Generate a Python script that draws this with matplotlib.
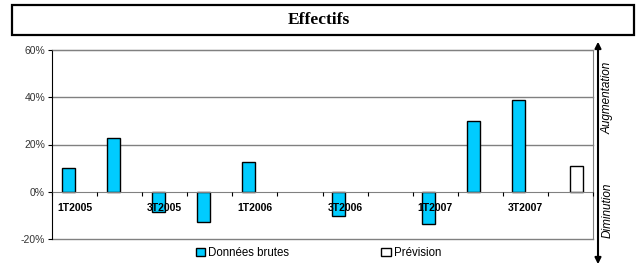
import numpy as np
import matplotlib
matplotlib.use("Agg")
import matplotlib.pyplot as plt
from matplotlib.patches import Patch, Rectangle, FancyArrowPatch

quarters = ["1T2005", "2T2005", "3T2005", "4T2005",
            "1T2006", "2T2006", "3T2006", "4T2006",
            "1T2007", "2T2007", "3T2007", "4T2007"]
donnees_brutes = [10.0, 22.8, -8.6, -13.0, 12.6, np.nan, -10.1, np.nan,
                  -13.5, 30.1, 38.9, np.nan]
prevision = [np.nan] * 11 + [11.1]
shown_labels = ["1T2005", "3T2005", "1T2006", "3T2006", "1T2007", "3T2007"]
y_ticks = [-20, 0, 20, 40, 60]

plt.rcParams['font.family'] = ['Liberation Sans', 'DejaVu Sans']

W, H = 637, 268
fig = plt.figure(figsize=(W / 100, H / 100), dpi=100)

# zone du graphique (en pixels)
left, right, top, bottom = 52, 593, 50, 239
ax = fig.add_axes([left / W, (H - bottom) / H, (right - left) / W, (bottom - top) / H])

x = np.arange(len(quarters))
bw = 13 / 45
ax.bar(x - bw / 2, donnees_brutes, bw, color='#00CCFF', edgecolor='black', linewidth=1, zorder=2)
ax.bar(x + bw / 2, prevision, bw, color='white', edgecolor='black', linewidth=1, zorder=2)

for v in y_ticks:
    if v != 0:
        ax.axhline(v, color='#808080', linewidth=1, zorder=0.5, clip_on=False)

ax.set_xlim(-0.5, len(quarters) - 0.5)
ax.set_ylim(-20, 60)
ax.set_yticks(y_ticks)
ax.set_yticklabels([f"{v}%" for v in y_ticks], fontsize=7.5, color='#333333')
ax.tick_params(axis='y', direction='out', length=3, width=0.8, pad=2)

ax.spines['bottom'].set_position(('data', 0))
ax.spines['bottom'].set_color('#808080')
ax.spines['top'].set_color('#808080')
ax.spines['right'].set_color('#808080')
ax.spines['left'].set_color('black')

ax.set_xticks(np.arange(len(quarters) + 1) - 0.5)
ax.set_xticklabels([])
ax.tick_params(axis='x', which='major', direction='out', length=3, width=0.8, color='black')
ax.set_xticks(x, minor=True)
ax.set_xticklabels([q if q in shown_labels else "" for q in quarters], minor=True,
                   fontsize=7.5, fontweight='bold')
ax.tick_params(axis='x', which='minor', length=0, pad=8)
ax.set_axisbelow(False)
for lbl in ax.get_xticklabels(minor=True):
    lbl.set_zorder(5)

# cadre du titre
fig.add_artist(Rectangle((12 / W, 1 - 35 / H), 622 / W, 30 / H, transform=fig.transFigure,
                         fill=False, edgecolor='black', linewidth=1.6))
fig.text(0.5, 1 - 20 / H, "Effectifs", ha='center', va='center', fontsize=12.5,
         fontweight='bold', family='Liberation Serif')

# flèche à droite
fig.add_artist(FancyArrowPatch((598 / W, 1 - 267 / H), (598 / W, 1 - 39 / H),
                               transform=fig.transFigure, arrowstyle='<|-|>',
                               mutation_scale=9, color='black', linewidth=1.5))
fig.text(608 / W, 1 - 98 / H, "Augmentation", rotation=90, ha='center', va='center',
         fontsize=8.5, style='italic')
fig.text(608 / W, 1 - 210 / H, "Diminution", rotation=90, ha='center', va='center',
         fontsize=8.5, style='italic')

handles = [Patch(facecolor='#00CCFF', edgecolor='black'),
           Patch(facecolor='white', edgecolor='black')]
fig.legend(handles, ["Données brutes", "Prévision"], loc='center', bbox_to_anchor=(0.5, 15 / H),
           ncol=2, frameon=False, fontsize=8.3, handlelength=0.8, handleheight=0.8,
           handletextpad=0.3, columnspacing=8)

fig.savefig("out.png", dpi=100)
